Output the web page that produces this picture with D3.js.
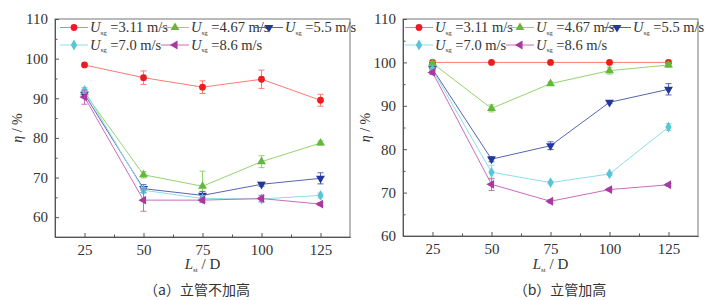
<!DOCTYPE html>
<html>
<head>
<meta charset="utf-8">
<script src="https://cdn.jsdelivr.net/npm/d3@7"></script>
<style>
  body { margin: 0; background: #fff; }
  svg { display: block; }
</style>
</head>
<body>
<div id="chart"></div>
<script>
// x positions (L_st / D)
var lengths = [25, 50, 75, 100, 125];
var speeds = ['3.11', '4.67', '5.5', '7.0', '8.6'];

// panel (a) – riser not raised
var etaA311 = [98.4, 95.2, 92.8, 94.8, 89.5];
var errA311 = [0.3, 1.7, 1.6, 2.3, 1.5];
var etaA467 = [91.4, 70.7, 67.8, 74.0, 78.7];
var errA467 = [0.6, 0.8, 3.8, 1.5, 0.5];
var etaA55 = [91.0, 67.2, 65.5, 68.3, 69.8];
var errA55 = [0.6, 1.0, 1.0, 0.5, 1.4];
var etaA70 = [92.0, 66.8, 64.7, 64.6, 65.5];
var errA70 = [0.7, 0.7, 0.7, 0.7, 0.6];
var etaA86 = [90.3, 64.3, 64.3, 64.7, 63.3];
var errA86 = [1.8, 2.8, 0.6, 0.8, 0.4];

// panel (b) – riser raised
var etaB311 = [100, 100, 100, 100, 100];
var errB311 = [0, 0, 0, 0, 0];
var etaB467 = [99.8, 89.4, 95.1, 98.1, 99.4];
var errB467 = [0.4, 0.8, 0.4, 0.8, 0.5];
var etaB55 = [98.5, 77.7, 80.8, 90.8, 93.8];
var errB55 = [0.5, 0.6, 0.9, 0.3, 1.3];
var etaB70 = [98.3, 74.7, 72.3, 74.3, 85.1];
var errB70 = [0.5, 1.6, 0.3, 0.3, 0.8];
var etaB86 = [97.7, 71.9, 68.0, 70.7, 71.8];
var errB86 = [0.5, 1.4, 0.4, 0.3, 0.3];

var lineColors = ['#ff7a72', '#95d46b', '#5566b0', '#8fdde6', '#c86cbf'];
var dotColors = ['#ee1c1c', '#62b83a', '#22379a', '#56c6d6', '#a9399f'];
var shapes = ['circle', 'up', 'down', 'diamond', 'left'];
var serif = 'Liberation Serif, Times New Roman, Tinos, DejaVu Serif, serif';

var svg = d3.select('#chart').append('svg').attr('width', 723).attr('height', 300)
  .attr('font-family', serif);

function marker(g, shape, x, y, color) {
  var sym;
  if (shape == 'circle') sym = d3.symbol(d3.symbolCircle, 36);
  else if (shape == 'diamond') sym = d3.symbol(d3.symbolDiamond, 34);
  else sym = d3.symbol(d3.symbolTriangle, 34);
  var rot = shape == 'down' ? 180 : (shape == 'left' ? -90 : 0);
  g.append('path').attr('d', sym())
    .attr('transform', 'translate(' + x + ',' + y + ') rotate(' + rot + ')')
    .attr('fill', color);
}

function drawPanel(opt) {
  var x = d3.scaleLinear().domain([12.5, 137.5]).range([opt.left, opt.right]);
  var y = d3.scaleLinear().domain(opt.yDomain).range([opt.bottom, opt.top]);
  var g = svg.append('g');

  // frame
  g.append('rect').attr('x', opt.left).attr('y', opt.top)
    .attr('width', opt.right - opt.left).attr('height', opt.bottom - opt.top)
    .attr('fill', 'none').attr('stroke', '#777').attr('stroke-width', 1);

  // axes with inward ticks
  g.append('g').attr('transform', 'translate(0,' + opt.bottom + ')')
    .call(d3.axisBottom(x).tickValues(lengths).tickSizeInner(-4).tickSizeOuter(0).tickPadding(7));
  g.append('g').attr('transform', 'translate(0,' + opt.bottom + ')')
    .call(d3.axisBottom(x).tickValues([37.5, 62.5, 87.5, 112.5]).tickSizeInner(-2.5).tickSizeOuter(0).tickFormat(''));
  g.append('g').attr('transform', 'translate(' + opt.left + ',0)')
    .call(d3.axisLeft(y).tickValues(opt.yTicks).tickSizeInner(-4).tickSizeOuter(0).tickPadding(7));
  g.append('g').attr('transform', 'translate(' + opt.left + ',0)')
    .call(d3.axisLeft(y).tickValues(opt.yMinor).tickSizeInner(-2.5).tickSizeOuter(0).tickFormat(''));
  g.selectAll('.domain').attr('stroke', '#555');
  g.selectAll('.tick line').attr('stroke', '#555');
  g.selectAll('g').attr('font-family', serif);
  g.selectAll('.tick text').attr('font-size', 15).attr('fill', '#333');

  // series
  opt.series.forEach(function (s, i) {
    var pts = lengths.map(function (L, j) { return { x: L, v: s.eta[j], e: s.err[j] }; });
    g.append('path').datum(pts)
      .attr('d', d3.line().x(function (d) { return x(d.x); }).y(function (d) { return y(d.v); }))
      .attr('fill', 'none').attr('stroke', lineColors[i]).attr('stroke-width', 1);
    pts.forEach(function (d) {
      if (d.e > 0) {
        var cx = x(d.x), y1 = y(d.v - d.e), y2 = y(d.v + d.e);
        g.append('line').attr('x1', cx).attr('x2', cx).attr('y1', y1).attr('y2', y2)
          .attr('stroke', lineColors[i]).attr('stroke-width', 1);
        [y1, y2].forEach(function (yy) {
          g.append('line').attr('x1', cx - 3).attr('x2', cx + 3).attr('y1', yy).attr('y2', yy)
            .attr('stroke', lineColors[i]).attr('stroke-width', 1);
        });
      }
      marker(g, shapes[i], x(d.x), y(d.v), dotColors[i]);
    });
  });

  // legend
  speeds.forEach(function (sp, i) {
    var lx = opt.legendX[i], ly = opt.legendY[i];
    g.append('line').attr('x1', lx).attr('x2', lx + 28).attr('y1', ly).attr('y2', ly)
      .attr('stroke', lineColors[i]).attr('stroke-width', 1);
    marker(g, shapes[i], lx + 14, ly, dotColors[i]);
    var t = g.append('text').attr('x', lx + 30).attr('y', ly + 4.5)
      .attr('font-size', 14.5).attr('fill', '#333');
    t.append('tspan').attr('font-style', 'italic').text('U');
    t.append('tspan').attr('font-size', 7).attr('dy', 2.5).text('sg');
    t.append('tspan').attr('dy', -2.5).text(' =' + sp + ' m/s');
  });

  // axis titles
  var cy = (opt.top + opt.bottom) / 2;
  var yt = g.append('text').attr('transform', 'translate(' + (opt.left - 33) + ',' + cy + ') rotate(-90)')
    .attr('text-anchor', 'middle').attr('font-size', 14).attr('fill', '#333');
  yt.append('tspan').attr('font-style', 'italic').text('η');
  yt.append('tspan').text(' / %');

  var xt = g.append('text').attr('x', (opt.left + opt.right) / 2).attr('y', 269)
    .attr('text-anchor', 'middle').attr('font-size', 15).attr('fill', '#333');
  xt.append('tspan').attr('font-style', 'italic').text('L');
  xt.append('tspan').attr('font-size', 7).attr('dy', 2.5).text('st');
  xt.append('tspan').attr('dy', -2.5).text(' / D');

  g.append('text').attr('x', opt.capX).attr('y', 295)
    .attr('font-family', 'Noto Sans CJK SC, sans-serif').attr('fill', '#333')
    .attr('text-anchor', 'middle').attr('font-size', 14).text(opt.caption);
}

drawPanel({
  left: 55, right: 350, top: 19, bottom: 237,
  yDomain: [55, 110], yTicks: [60, 70, 80, 90, 100, 110], yMinor: [55, 65, 75, 85, 95, 105],
  series: [
    { eta: etaA311, err: errA311 }, { eta: etaA467, err: errA467 }, { eta: etaA55, err: errA55 },
    { eta: etaA70, err: errA70 }, { eta: etaA86, err: errA86 }
  ],
  legendX: [60, 161, 255, 60, 161], legendY: [27.5, 27.5, 27.5, 45, 45],
  caption: '（a）立管不加高', capX: 197
});

drawPanel({
  left: 403, right: 698, top: 19, bottom: 236,
  yDomain: [60, 110], yTicks: [60, 70, 80, 90, 100, 110], yMinor: [65, 75, 85, 95, 105],
  series: [
    { eta: etaB311, err: errB311 }, { eta: etaB467, err: errB467 }, { eta: etaB55, err: errB55 },
    { eta: etaB70, err: errB70 }, { eta: etaB86, err: errB86 }
  ],
  legendX: [405, 506, 603, 405, 506], legendY: [27.5, 27.5, 27.5, 45, 45],
  caption: '（b）立管加高', capX: 560
});
</script>
</body>
</html>
